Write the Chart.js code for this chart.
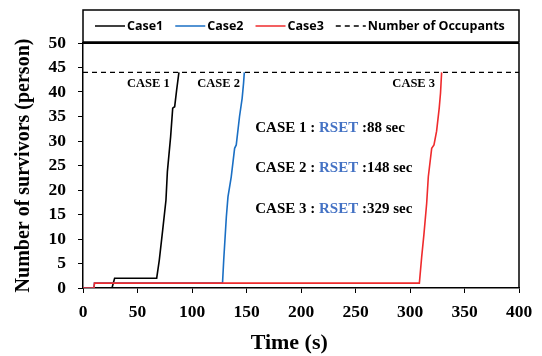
<!DOCTYPE html>
<html lang="en">
<head>
  <meta charset="UTF-8" />
  <title>Number of survivors</title>
  <script src="https://cdn.jsdelivr.net/npm/chart.js"></script>
  <style>
    html, body { margin: 0; padding: 0; background: #fff; }
    #wrap { width: 542px; height: 356px; }
  </style>
</head>
<body>
  <div id="wrap"><canvas id="survivorChart" width="542" height="356"></canvas></div>

  <script>
    // data
    const case1Time = [0, 26.6, 29, 67.6, 70, 73.1, 76.1, 77.4, 80.4, 82.3, 84.1, 85.9, 88];
    const case1Survivors = [0, 0, 2, 2, 5.7, 11.8, 17.9, 23.7, 30.9, 36.7, 37, 40.4, 44];
    const case2Time = [0, 10, 10.5, 128, 129.1, 131.5, 133, 136, 139.1, 140.6, 143.6, 146, 147.3, 148];
    const case2Survivors = [0, 0, 1, 1, 5.7, 14.5, 18.6, 22.7, 28.5, 29.2, 35, 38.7, 41.8, 44];
    const case3Time = [0, 10, 10.5, 308.6, 310.7, 312.8, 315.3, 316.8, 319.9, 322, 324.4, 326.8, 328, 329];
    const case3Survivors = [0, 0, 1, 1, 6.3, 11, 17.3, 22.7, 28.5, 29.2, 32, 36.7, 39.8, 44];
    const occupantsTime = [0, 400];
    const occupantsCount = [44, 44];

    const seriesNames = ['Case1', 'Case2', 'Case3', 'Number of Occupants'];
    const seriesColors = ['#000000', '#1a6fc4', '#ef2b2d', '#000000'];

    // text placed on the plot, in data coordinates
    const caseLabels = ['CASE 1', 'CASE 2', 'CASE 3'];
    const caseLabelX = [79.5, 144, 323];
    const caseLabelY = [41.7, 41.7, 41.7];
    const rsetValues = ['88', '148', '329'];
    const rsetX = 158;
    const rsetY = [32.6, 24.4, 16.1];

    function pts(xs, ys) {
      return xs.map((x, i) => ({ x: x, y: ys[i] }));
    }

    const serif = "'Liberation Serif', 'Times New Roman', serif";

    const overlay = {
      id: 'overlay',
      afterDraw(chart) {
        const ctx = chart.ctx;
        const a = chart.chartArea;
        const xs = chart.scales.x, ys = chart.scales.y;
        ctx.save();
        // frame top / right
        ctx.strokeStyle = '#000';
        ctx.lineWidth = 2;
        ctx.beginPath();
        ctx.moveTo(a.left, a.top);
        ctx.lineTo(a.right, a.top);
        ctx.stroke();
        ctx.lineWidth = 1.5;
        ctx.beginPath();
        ctx.moveTo(a.right, a.top);
        ctx.lineTo(a.right, a.bottom);
        ctx.stroke();

        // x axis title (sits a little left of centre in the original)
        ctx.fillStyle = '#000';
        ctx.font = 'bold 22px ' + serif;
        ctx.textAlign = 'center';
        ctx.textBaseline = 'alphabetic';
        ctx.fillText('Time (s)', a.left + (a.right - a.left) * 0.473, 349);

        // case labels
        ctx.font = 'bold 12.5px ' + serif;
        ctx.textAlign = 'right';
        ctx.textBaseline = 'middle';
        caseLabels.forEach((t, i) => {
          ctx.fillText(t, xs.getPixelForValue(caseLabelX[i]), ys.getPixelForValue(caseLabelY[i]));
        });

        // RSET lines
        ctx.font = 'bold 15px ' + serif;
        ctx.textAlign = 'left';
        rsetValues.forEach((v, i) => {
          let x = xs.getPixelForValue(rsetX);
          const y = ys.getPixelForValue(rsetY[i]);
          const parts = [['CASE ' + (i + 1) + ' : ', '#000'], ['RSET', '#4472c4'], [' :' + v + ' sec', '#000']];
          parts.forEach(p => {
            ctx.fillStyle = p[1];
            ctx.fillText(p[0], x, y);
            x += ctx.measureText(p[0]).width;
          });
        });

        // legend box
        const lx = a.left, lw = a.right - a.left, ly = 10, lh = 32;
        ctx.strokeStyle = '#000';
        ctx.lineWidth = 1.5;
        ctx.strokeRect(lx, ly, lw, lh);
        ctx.font = "bold 12.5px 'Open Sans', 'Noto Sans', sans-serif";
        ctx.textBaseline = 'middle';
        const my = ly + lh / 2;
        let cx = lx + 12;
        seriesNames.forEach((name, i) => {
          ctx.strokeStyle = seriesColors[i];
          ctx.lineWidth = 1.5;
          ctx.setLineDash(i === 3 ? [5, 4] : []);
          ctx.beginPath();
          ctx.moveTo(cx, my);
          ctx.lineTo(cx + 30, my);
          ctx.stroke();
          ctx.setLineDash([]);
          ctx.fillStyle = '#000';
          ctx.fillText(name, cx + 32, my);
          cx += 32 + ctx.measureText(name).width + 12;
        });
        ctx.restore();
      }
    };

    const tickFont = { family: serif, size: 17.5, weight: 'bold' };

    new Chart(document.getElementById('survivorChart').getContext('2d'), {
      type: 'line',
      data: {
        datasets: [
          { label: seriesNames[0], data: pts(case1Time, case1Survivors), borderColor: seriesColors[0], order: 2 },
          { label: seriesNames[1], data: pts(case2Time, case2Survivors), borderColor: seriesColors[1], order: 1 },
          { label: seriesNames[2], data: pts(case3Time, case3Survivors), borderColor: seriesColors[2], order: 0 },
          { label: seriesNames[3], data: pts(occupantsTime, occupantsCount), borderColor: seriesColors[3], borderDash: [5, 4], borderWidth: 1.2, order: 3 }
        ]
      },
      options: {
        responsive: false,
        animation: false,
        parsing: false,
        elements: {
          line: { tension: 0, borderWidth: 1.6, fill: false },
          point: { radius: 0 }
        },
        layout: { padding: { top: 43, right: 23, left: 0, bottom: 0 } },
        plugins: {
          legend: { display: false },
          title: { display: false },
          tooltip: { enabled: false }
        },
        scales: {
          x: {
            type: 'linear',
            min: 0, max: 400,
            ticks: { stepSize: 50, color: '#000', font: tickFont, padding: 9, maxRotation: 0 },
            grid: { drawOnChartArea: false, drawTicks: true, tickLength: 5, color: '#000' },
            border: { color: '#000', width: 1.5 },
            afterFit(s) { s.height = 68; }
          },
          y: {
            min: 0, max: 50,
            ticks: { stepSize: 5, color: '#000', font: tickFont, padding: 12 },
            grid: { drawOnChartArea: false, drawTicks: true, tickLength: 5, color: '#000' },
            border: { color: '#000', width: 1.5 },
            title: { display: true, text: 'Number of survivors (person)', color: '#000', font: { family: serif, size: 20, weight: 'bold' }, padding: { top: 12, bottom: 0 } },
            afterFit(s) { s.width = 83; }
          }
        }
      },
      plugins: [overlay]
    });
  </script>
</body>
</html>
